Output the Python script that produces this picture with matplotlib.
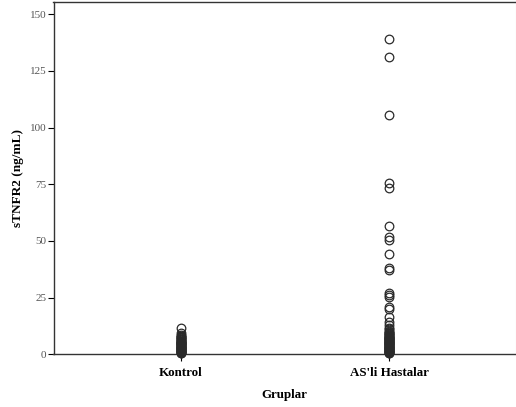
import matplotlib
matplotlib.use("Agg")
import matplotlib.pyplot as plt

plt.rcParams["font.family"] = ["Liberation Serif", "DejaVu Serif"]

# data (ng/mL)
groups = ["Kontrol", "AS'li Hastalar"]
kontrol = [0.4, 0.6, 0.8, 1.0, 1.2, 1.4, 1.6, 1.8, 2.0, 2.2, 2.4, 2.6, 2.8, 3.0,
           3.2, 3.4, 3.6, 3.8, 4.0, 4.2, 4.4, 4.6, 4.8, 5.0, 5.2, 5.4, 5.6, 5.8,
           6.0, 6.3, 6.6, 6.9, 7.2, 7.5, 7.8, 8.2, 8.6, 9.6, 11.5]
hastalar = [0.4, 0.6, 0.8, 1.0, 1.2, 1.4, 1.6, 1.8, 2.0, 2.2, 2.4, 2.6, 2.8, 3.0,
            3.2, 3.4, 3.6, 3.8, 4.0, 4.2, 4.4, 4.6, 4.8, 5.0, 5.2, 5.4, 5.6, 5.8,
            6.0, 6.2, 6.4, 6.6, 6.8, 7.0, 7.2, 7.4, 7.6, 7.8, 8.0, 8.3, 8.6, 8.9,
            9.2, 9.6, 10.0, 10.5, 11.0, 11.8, 12.9, 14.4, 16.6, 19.8, 21.0, 25.4,
            26.2, 27.2, 37.2, 37.9, 44.1, 50.4, 51.9, 56.6, 73.2, 75.4, 105.5,
            131.3, 139.1]
yticks = [0, 25, 50, 75, 100, 125, 150]

fig = plt.figure(figsize=(5.16, 4.07), dpi=100)
ax = fig.add_axes([53.5 / 516, 1 - 354.3 / 407, 462 / 516, 352 / 407])

for pos, vals in zip([1, 2], [kontrol, hastalar]):
    ax.plot([pos] * len(vals), vals, linestyle="none", marker="o", markersize=6.2,
            markerfacecolor="none", markeredgecolor="#2a2a2a", markeredgewidth=0.9,
            clip_on=False, zorder=3)

ax.set_xlim(0.388, 2.605)
ax.set_ylim(0, 155.3)
ax.set_yticks(yticks)
ax.set_xticks([1, 2])
ax.set_xticklabels(groups, fontsize=9.4, fontweight="bold")
ax.tick_params(axis="y", labelsize=8, labelcolor="#555555", length=4, width=0.8, pad=1)
ax.tick_params(axis="x", length=5, width=0.8, pad=4)
ax.set_ylabel("sTNFR2 (ng/mL)", fontsize=9.5, fontweight="bold", labelpad=4)
ax.set_xlabel("Gruplar", fontsize=9.4, fontweight="bold", labelpad=7)

for s in ["left", "bottom", "top"]:
    ax.spines[s].set_color("#333333")
    ax.spines[s].set_linewidth(1.0)
ax.spines["right"].set_color("#dddddd")

fig.savefig("out.png", dpi=100)
